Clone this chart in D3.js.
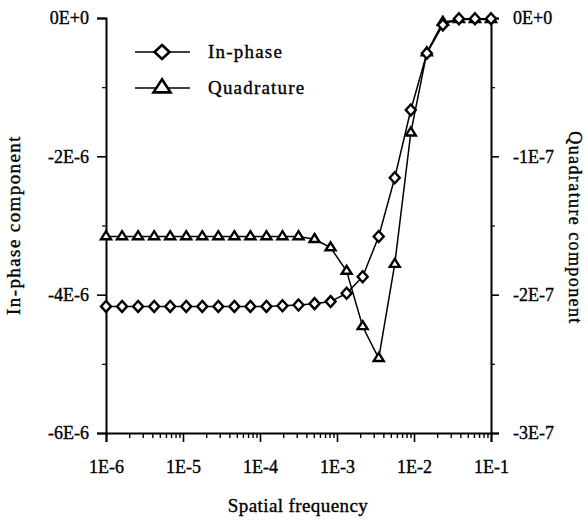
<!DOCTYPE html>
<html>
<head>
<meta charset="utf-8">
<script src="https://cdn.jsdelivr.net/npm/d3@7"></script>
<style>
  html, body { margin: 0; padding: 0; background: #fff; }
  svg { display: block; }
  text { font-family: "Liberation Serif", "Times New Roman", serif; fill: #000; stroke: #000; stroke-width: 0.35; }
</style>
</head>
<body>
<svg id="chart" width="588" height="521"></svg>
<script>
// Spatial frequencies (log-spaced sampling points)
const frequencies = [
  1.000e-6, 1.616e-6, 2.610e-6, 4.217e-6, 6.813e-6,
  1.101e-5, 1.778e-5, 2.873e-5, 4.642e-5, 7.499e-5,
  1.212e-4, 1.957e-4, 3.162e-4, 5.109e-4, 8.254e-4,
  1.334e-3, 2.154e-3, 3.481e-3, 5.623e-3, 9.085e-3,
  1.468e-2, 2.371e-2, 3.831e-2, 6.190e-2, 1.000e-1
];

// In-phase component (left axis)
const inPhase = [
  -4.17e-6, -4.17e-6, -4.17e-6, -4.17e-6, -4.17e-6,
  -4.17e-6, -4.17e-6, -4.17e-6, -4.17e-6, -4.17e-6,
  -4.17e-6, -4.16e-6, -4.15e-6, -4.13e-6, -4.10e-6,
  -3.98e-6, -3.74e-6, -3.16e-6, -2.31e-6, -1.33e-6,
  -0.51e-6, -0.10e-6, -0.01e-6, -0.01e-6, -0.01e-6
];

// Quadrature component (right axis)
const quadrature = [
  -1.58e-7, -1.58e-7, -1.58e-7, -1.58e-7, -1.58e-7,
  -1.58e-7, -1.58e-7, -1.58e-7, -1.58e-7, -1.58e-7,
  -1.58e-7, -1.58e-7, -1.58e-7, -1.60e-7, -1.66e-7,
  -1.83e-7, -2.23e-7, -2.46e-7, -1.78e-7, -0.83e-7,
  -0.25e-7, -0.03e-7, -0.01e-7, -0.01e-7, -0.01e-7
];

// Axis ticks and labels
const xTicks = [1e-6, 1e-5, 1e-4, 1e-3, 1e-2, 1e-1];
const xTickLabels = ["1E-6", "1E-5", "1E-4", "1E-3", "1E-2", "1E-1"];
const leftTicks = [0, -2e-6, -4e-6, -6e-6];
const leftTickLabels = ["0E+0", "-2E-6", "-4E-6", "-6E-6"];
const rightTicks = [0, -1e-7, -2e-7, -3e-7];
const rightTickLabels = ["0E+0", "-1E-7", "-2E-7", "-3E-7"];

const seriesNames = ["In-phase", "Quadrature"];

const svg = d3.select("#chart");
const plot = { left: 106, right: 491, top: 18, bottom: 433 };

const x = d3.scaleLog().domain([1e-6, 1e-1]).range([plot.left, plot.right]);
const yL = d3.scaleLinear().domain([-6e-6, 0]).range([plot.bottom, plot.top]);
const yR = d3.scaleLinear().domain([-3e-7, 0]).range([plot.bottom, plot.top]);

// Marker shapes
function diamondPath(w, h) {
  const p = d3.path();
  p.moveTo(0, -h / 2); p.lineTo(w / 2, 0); p.lineTo(0, h / 2); p.lineTo(-w / 2, 0); p.closePath();
  return p.toString();
}
function trianglePath(w, h) {
  // centroid at the origin
  const p = d3.path();
  p.moveTo(0, -2 * h / 3); p.lineTo(w / 2, h / 3); p.lineTo(-w / 2, h / 3); p.closePath();
  return p.toString();
}

// ----- Axes -----
const fmt = (ticks, labels) => v => labels[ticks.findIndex(t => Math.abs(t - v) < 1e-12)];

// bottom: log axis with minor ticks
const minorX = [];
for (let e = -6; e < -1; e++) for (let m = 2; m <= 9; m++) minorX.push(m * Math.pow(10, e));
svg.append("g")
  .attr("transform", `translate(0,${plot.bottom})`)
  .call(d3.axisBottom(x).tickValues(minorX).tickSize(5).tickFormat(""))
  .call(g => g.select(".domain").remove())
  .selectAll("line").attr("stroke", "#000").attr("stroke-width", 1.4);

const xAxis = svg.append("g")
  .attr("transform", `translate(0,${plot.bottom})`)
  .call(d3.axisBottom(x).tickValues(xTicks).tickSize(9).tickPadding(18)
    .tickFormat(fmt(xTicks, xTickLabels)));
xAxis.select(".domain").attr("stroke", "#000").attr("stroke-width", 2);
xAxis.selectAll("line").attr("stroke", "#000").attr("stroke-width", 1.6);
xAxis.selectAll("text").attr("font-size", 18).attr("font-family", "Liberation Serif");

// left axis
svg.append("g")
  .attr("transform", `translate(${plot.left},0)`)
  .call(d3.axisLeft(yL).tickValues([-1e-6, -3e-6, -5e-6]).tickSize(4).tickFormat(""))
  .call(g => g.select(".domain").remove())
  .selectAll("line").attr("stroke", "#000").attr("stroke-width", 1.2);

const lAxis = svg.append("g")
  .attr("transform", `translate(${plot.left},0)`)
  .call(d3.axisLeft(yL).tickValues(leftTicks).tickSize(9).tickPadding(8)
    .tickFormat(fmt(leftTicks, leftTickLabels)));
lAxis.select(".domain").attr("stroke", "#000").attr("stroke-width", 2);
lAxis.selectAll("line").attr("stroke", "#000").attr("stroke-width", 1.6);
lAxis.selectAll("text").attr("font-size", 18).attr("font-family", "Liberation Serif");

// right axis
svg.append("g")
  .attr("transform", `translate(${plot.right},0)`)
  .call(d3.axisRight(yR).tickValues([-0.5e-7, -1.5e-7, -2.5e-7]).tickSize(4).tickFormat(""))
  .call(g => g.select(".domain").remove())
  .selectAll("line").attr("stroke", "#000").attr("stroke-width", 1.2);

const rAxis = svg.append("g")
  .attr("transform", `translate(${plot.right},0)`)
  .call(d3.axisRight(yR).tickValues(rightTicks).tickSize(8).tickPadding(14)
    .tickFormat(fmt(rightTicks, rightTickLabels)));
rAxis.select(".domain").attr("stroke", "#000").attr("stroke-width", 2);
rAxis.selectAll("line").attr("stroke", "#000").attr("stroke-width", 1.6);
rAxis.selectAll("text").attr("font-size", 18).attr("font-family", "Liberation Serif");

// ----- Axis titles -----
svg.append("text")
  .attr("x", 298).attr("y", 512)
  .attr("text-anchor", "middle").attr("font-size", 19).attr("letter-spacing", 0.4)
  .text("Spatial frequency");

svg.append("text")
  .attr("transform", "translate(20,225) rotate(-90)")
  .attr("text-anchor", "middle").attr("font-size", 19).attr("letter-spacing", 1.4)
  .text("In-phase component");

svg.append("text")
  .attr("transform", "translate(569,228) rotate(90)")
  .attr("text-anchor", "middle").attr("font-size", 18).attr("letter-spacing", 1.4)
  .text("Quadrature component");

// ----- Series -----
const pts = frequencies.map((f, i) => ({ f, ip: inPhase[i], q: quadrature[i] }));

const lineIP = d3.line().x(d => x(d.f)).y(d => yL(d.ip));
const lineQ = d3.line().x(d => x(d.f)).y(d => yR(d.q));

svg.append("path").datum(pts).attr("d", lineQ)
  .attr("fill", "none").attr("stroke", "#000").attr("stroke-width", 1.5);
svg.append("path").datum(pts).attr("d", lineIP)
  .attr("fill", "none").attr("stroke", "#000").attr("stroke-width", 1.5);

svg.append("g").selectAll("path").data(pts).join("path")
  .attr("transform", d => `translate(${x(d.f)},${yR(d.q)})`)
  .attr("d", trianglePath(10, 8))
  .attr("fill", "#fff").attr("stroke", "#000").attr("stroke-width", 2.4)
  .attr("stroke-linejoin", "miter");

svg.append("g").selectAll("path").data(pts).join("path")
  .attr("transform", d => `translate(${x(d.f)},${yL(d.ip)})`)
  .attr("d", diamondPath(10, 11))
  .attr("fill", "#fff").attr("stroke", "#000").attr("stroke-width", 2.4);

// ----- Legend -----
const legend = svg.append("g");
const legendRows = [
  { name: seriesNames[0], y: 52, shape: diamondPath(15, 14) },
  { name: seriesNames[1], y: 88, shape: trianglePath(17, 13) }
];
legendRows.forEach(r => {
  legend.append("line")
    .attr("x1", 135).attr("x2", 190).attr("y1", r.y).attr("y2", r.y)
    .attr("stroke", "#000").attr("stroke-width", 1.5);
  legend.append("path")
    .attr("transform", `translate(162,${r.y})`)
    .attr("d", r.shape)
    .attr("fill", "#fff").attr("stroke", "#000").attr("stroke-width", 2.6);
  legend.append("text")
    .attr("x", 208).attr("y", r.y + 6)
    .attr("font-size", 19).attr("letter-spacing", 1.2)
    .text(r.name);
});
</script>
</body>
</html>
